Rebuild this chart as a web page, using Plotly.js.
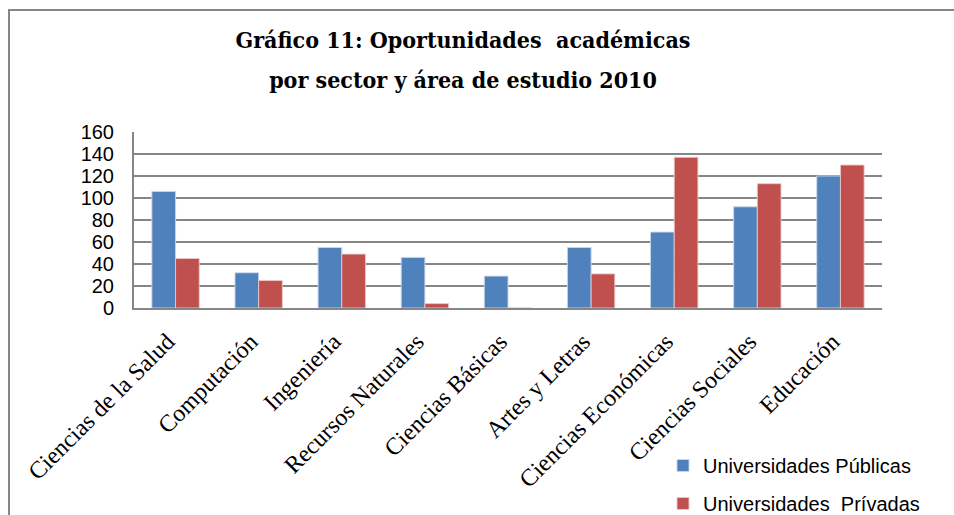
<!DOCTYPE html>
<html>
<head>
<meta charset="utf-8">
<script src="https://cdn.plot.ly/plotly-3.0.1.min.js"></script>
<style>
  html, body { margin: 0; padding: 0; background: #fff; }
  #chart { width: 954px; height: 515px; }
</style>
</head>
<body>
<div id="chart"></div>
<script>
const categories = ["Ciencias de la Salud", "Computación", "Ingeniería", "Recursos Naturales",
  "Ciencias Básicas", "Artes y Letras", "Ciencias Económicas", "Ciencias Sociales", "Educación"];
const publicas = [106, 32, 55, 46, 29, 55, 69, 92, 120];
const privadas = [45, 25, 49, 4, 0, 31, 137, 113, 130];
const seriesNames = ["Universidades Públicas", "Universidades  Prívadas"];
const yTicks = [0, 20, 40, 60, 80, 100, 120, 140, 160];

const gridColor = "#868686";

const traces = [
  {
    type: "bar", name: seriesNames[0], x: categories, y: publicas,
    marker: { color: "#4F81BD", line: { color: "rgba(200,215,235,0.9)", width: 1 } },
    legendgroup: "a", hoverinfo: "x+y"
  },
  {
    type: "bar", name: seriesNames[1], x: categories, y: privadas,
    marker: { color: "#C0504D", line: { color: "rgba(235,200,200,0.9)", width: 1 } },
    legendgroup: "b", hoverinfo: "x+y"
  }
];

const W = 954, H = 515;
const L = 134, R = 72, T = 132, B = 207;
const pw = W - L - R, ph = H - T - B;
const px = v => (v - L) / pw;
const py = v => (H - B - v) / ph;

const layout = {
  width: W, height: H,
  margin: { l: L, r: R, t: T, b: B, autoexpand: false },
  paper_bgcolor: "#ffffff",
  plot_bgcolor: "#ffffff",
  barmode: "group",
  bargap: 0.43,
  bargroupgap: 0,
  showlegend: true,
  title: {
    text: "<span style='font-size:23px'>Gráfico 11: Oportunidades  académicas</span><br><span style='font-size:23px'>por sector y área de estudio 2010</span>",
    font: { family: "DejaVu Serif Condensed, DejaVu Serif, serif", size: 31, color: "#000", weight: "bold" },
    x: 463 / W, xref: "container", xanchor: "center",
    y: 1 - 48 / H, yref: "container", yanchor: "top"
  },
  xaxis: {
    type: "category",
    tickangle: -45,
    tickfont: { family: "Liberation Serif, serif", size: 24, color: "#000" },
    showgrid: false,
    showline: true, linecolor: gridColor, linewidth: 2,
    ticks: "", automargin: false,
    ticklabelstandoff: 8,
    ticklabelshift: -8
  },
  yaxis: {
    range: [0, 160],
    tickvals: yTicks,
    tickfont: { family: "Liberation Sans, Arial, sans-serif", size: 20, color: "#000" },
    showgrid: true, gridcolor: gridColor, gridwidth: 2,
    showline: true, linecolor: gridColor, linewidth: 2,
    zeroline: false, ticks: "", automargin: false,
    ticklabelstandoff: 14
  },
  legend: {
    x: px(663), xanchor: "left",
    y: py(446), yanchor: "top",
    font: { family: "Liberation Sans, Arial, sans-serif", size: 20, color: "#000" },
    bgcolor: "rgba(0,0,0,0)",
    tracegroupgap: 9,
    traceorder: "grouped"
  },
  shapes: [
    {
      type: "rect", xref: "paper", yref: "paper",
      x0: px(9), x1: px(W + 10), y0: py(H + 10), y1: py(10),
      line: { color: gridColor, width: 2 }, fillcolor: "rgba(0,0,0,0)", layer: "below"
    }
  ]
};

Plotly.newPlot("chart", traces, layout, { displayModeBar: false, responsive: false });
</script>
</body>
</html>
